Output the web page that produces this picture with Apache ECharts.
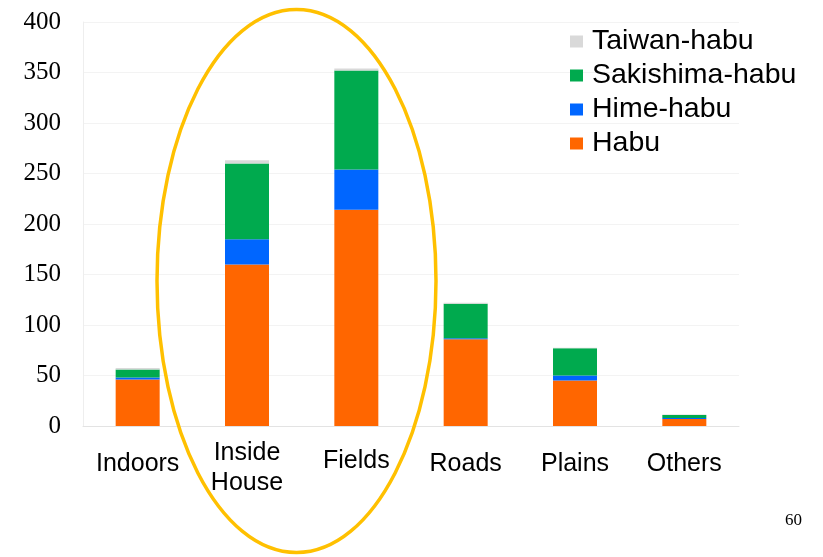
<!DOCTYPE html>
<html>
<head>
<meta charset="utf-8">
<script src="https://cdn.jsdelivr.net/npm/echarts@6/dist/echarts.min.js"></script>
<style>
html,body{margin:0;padding:0;background:#fff;}
#chart{width:823px;height:557px;}
</style>
</head>
<body>
<div id="chart"></div>
<script>
const categories = ['Indoors', 'Inside House', 'Fields', 'Roads', 'Plains', 'Others'];
const habu = [46, 160, 214, 86, 45, 7];
const himeHabu = [2, 25, 40, 1, 5, 1];
const sakishimaHabu = [8, 75, 98, 34, 27, 3];
const taiwanHabu = [1.5, 3, 2, 1, 0.5, 0.5];
const yTicks = [0, 50, 100, 150, 200, 250, 300, 350, 400];
const pageNumber = '60';

const chart = echarts.init(document.getElementById('chart'));
function mk(name, data, color) {
  return { name, type: 'bar', stack: 'total', data, barWidth: 44,
    itemStyle: { color }, emphasis: { disabled: true } };
}
const sans = 'Liberation Sans, Arial, sans-serif';
chart.setOption({
  animation: false,
  grid: { left: 83, right: 84, top: 22, bottom: 131 },
  legend: {
    orient: 'vertical', left: 565, top: 22, itemWidth: 13, itemHeight: 12, itemGap: 5,
    icon: 'rect',
    data: ['Taiwan-habu', 'Sakishima-habu', 'Hime-habu', 'Habu'],
    textStyle: { fontFamily: sans, fontSize: 28.5, color: '#000',
      lineHeight: 28.5, padding: [0, 0, 0, 4] }
  },
  xAxis: {
    type: 'category', data: categories,
    axisLine: { lineStyle: { color: '#e3e3e3' } },
    axisTick: { show: false },
    axisLabel: {
      margin: 12, interval: 0, color: '#000',
      fontFamily: sans, fontSize: 25,
      formatter: v => v === 'Inside House' ? '{h|Inside}\n{h|House}' : (v === 'Fields' ? '{f|' + v + '}' : '{n|' + v + '}'),
      rich: {
        h: { fontFamily: sans, fontSize: 25, lineHeight: 30, color: '#000' },
        f: { fontFamily: sans, fontSize: 25, lineHeight: 30, color: '#000', padding: [16, 0, 0, 0] },
        n: { fontFamily: sans, fontSize: 25, lineHeight: 30, color: '#000', padding: [22, 0, 0, 0] }
      }
    }
  },
  yAxis: {
    type: 'value', min: yTicks[0], max: yTicks[yTicks.length - 1], interval: 50,
    axisLine: { show: true, lineStyle: { color: '#eeeeee' } },
    axisTick: { show: false },
    splitLine: { lineStyle: { color: '#f3f3f3' } },
    axisLabel: { margin: 22, color: '#000', fontFamily: 'Liberation Serif, Times New Roman, serif', fontSize: 25 }
  },
  series: [
    mk('Habu', habu, '#FF6600'),
    mk('Hime-habu', himeHabu, '#0066FF'),
    mk('Sakishima-habu', sakishimaHabu, '#00AA4E'),
    mk('Taiwan-habu', taiwanHabu, '#D9D9D9')
  ],
  graphic: [
    { type: 'ellipse', shape: { cx: 296.5, cy: 281, rx: 139.5, ry: 271.5 }, z: 100,
      style: { fill: 'none', stroke: '#FFC000', lineWidth: 3.5 } },
    { type: 'text', left: 785, top: 512, z: 100,
      style: { text: pageNumber, fill: '#000', font: '17px "Liberation Serif", serif' } }
  ]
});
</script>
</body>
</html>
